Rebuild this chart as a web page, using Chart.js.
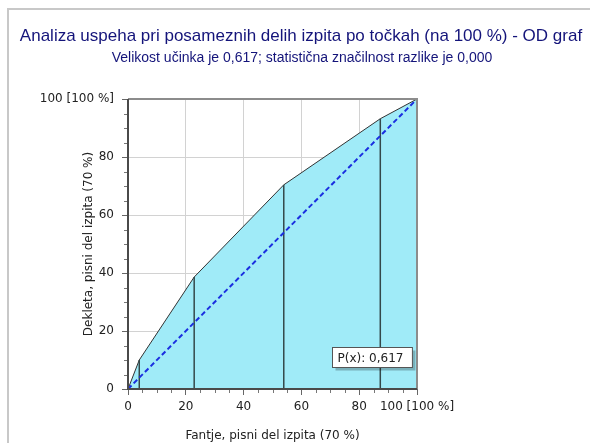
<!DOCTYPE html>
<html>
<head>
<meta charset="utf-8">
<script src="https://cdn.jsdelivr.net/npm/chart.js@4/dist/chart.umd.min.js"></script>
<style>
  body { margin: 0; background: #fff; }
  .frame { position: absolute; left: 7px; top: 8px; right: 0; bottom: 0;
           border-top: 2px solid #c8c8c8; border-left: 2px solid #c8c8c8; }
  #odChart { position: absolute; left: 0; top: 0; }
</style>
</head>
<body>
<div class="frame"></div>
<canvas id="odChart" width="590" height="443"></canvas>
<script>
// kumulativni deleži po točkah: fantje (x) in dekleta (y)
const boysCum = [0, 3.9, 22.9, 53.9, 87.3, 100];
const girlsCum = [0, 10, 38.6, 70.4, 93.2, 100];
const diagonal = [0, 100];
const tickValues = [0, 20, 40, 60, 80, 100];
const effectSize = 0.617;
const pValue = 0.000;

const fmt = (v, d) => v.toFixed(d).replace('.', ',');

const titleText = 'Analiza uspeha pri posameznih delih izpita po točkah (na 100 %) - OD graf';
const subtitleText = 'Velikost učinka je ' + fmt(effectSize, 3) + '; statistična značilnost razlike je ' + fmt(pValue, 3);

const curve = boysCum.map((x, i) => ({ x: x, y: girlsCum[i] }));

// navpične črte od osi x do krivulje v vsaki točki preloma
const drops = [];
for (let i = 1; i < boysCum.length - 1; i++) {
    drops.push({
        data: [{ x: boysCum[i], y: 0 }, { x: boysCum[i], y: girlsCum[i] }],
        borderColor: '#34484a',
        borderWidth: 1.5,
        pointRadius: 0,
        fill: false,
        order: 2
    });
}

const tickLabel = v => v === 100 ? '100 [100 %]' : String(v);
const gridColor = c => (c.tick && c.tick.value > 0 && c.tick.value < 100) ? '#d2d2d2' : 'rgba(0,0,0,0)';
const axisFont = { family: '"DejaVu Sans"', size: 12 };

const decor = {
    id: 'decor',
    afterDraw(chart) {
        const { ctx, chartArea: a, scales: { x, y } } = chart;
        ctx.save();

        // naslov in podnaslov, sredinsko nad celim okvirjem
        ctx.textAlign = 'center';
        ctx.textBaseline = 'middle';
        ctx.fillStyle = '#14147a';
        ctx.font = '17px "Liberation Sans", Arial';
        ctx.fillText(titleText, 301, 36);
        ctx.font = '14px "Liberation Sans", Arial';
        ctx.fillText(subtitleText, 302, 58);
        ctx.textAlign = 'left';

        // okvir risalne površine
        ctx.lineWidth = 2;
        ctx.strokeStyle = '#8c8c8c';
        ctx.beginPath();
        ctx.moveTo(a.left, a.top);
        ctx.lineTo(a.right, a.top);
        ctx.lineTo(a.right, a.bottom);
        ctx.stroke();
        ctx.strokeStyle = '#4a4a4a';
        ctx.beginPath();
        ctx.moveTo(a.left, a.top);
        ctx.lineTo(a.left, a.bottom);
        ctx.lineTo(a.right, a.bottom);
        ctx.stroke();

        // pomožne oznake na vsakih 5
        ctx.lineWidth = 1;
        ctx.strokeStyle = '#777';
        ctx.beginPath();
        for (let v = 5; v < 100; v += 5) {
            if (v % 20 === 0) continue;
            const px = Math.round(x.getPixelForValue(v)) + 0.5;
            const py = Math.round(y.getPixelForValue(v)) + 0.5;
            ctx.moveTo(px, a.bottom + 1);
            ctx.lineTo(px, a.bottom + 4);
            ctx.moveTo(a.left - 1, py);
            ctx.lineTo(a.left - 4, py);
        }
        ctx.stroke();

        // oznaka z velikostjo učinka
        const label = 'P(x): ' + fmt(effectSize, 3);
        ctx.font = '12px "DejaVu Sans"';
        const w = ctx.measureText(label).width + 14;
        const h = 20;
        const bx = Math.round(x.getPixelForValue(70.6)) + 0.5;
        const by = Math.round(y.getPixelForValue(7.6)) - h + 0.5;
        ctx.fillStyle = 'rgba(0,0,0,0.25)';
        ctx.fillRect(bx + 3, by + 3, w, h);
        ctx.fillStyle = '#fff';
        ctx.fillRect(bx, by, w, h);
        ctx.strokeStyle = '#555';
        ctx.strokeRect(bx, by, w, h);
        ctx.fillStyle = '#222';
        ctx.textBaseline = 'middle';
        ctx.fillText(label, bx + 5, by + h / 2 + 1);
        ctx.restore();
    }
};

new Chart(document.getElementById('odChart'), {
    type: 'line',
    data: {
        datasets: [
            {
                data: curve,
                borderColor: '#333',
                borderWidth: 1,
                backgroundColor: '#a0ebf8',
                fill: 'origin',
                pointRadius: 0,
                tension: 0,
                order: 3
            },
            ...drops,
            {
                data: diagonal.map(v => ({ x: v, y: v })),
                borderColor: '#1a2ee0',
                borderWidth: 2,
                borderDash: [5, 3],
                pointRadius: 0,
                fill: false,
                order: 1
            }
        ]
    },
    options: {
        responsive: false,
        animation: false,
        layout: { padding: { top: 99, left: 0, right: 173, bottom: 0 } },
        plugins: {
            legend: { display: false },
            tooltip: { enabled: false }
        },
        scales: {
            x: {
                type: 'linear',
                min: 0,
                max: 100,
                afterFit: s => { s.height = 54; },
                afterBuildTicks: s => { s.ticks = tickValues.map(v => ({ value: v })); },
                ticks: {
                    callback: tickLabel,
                    color: '#222',
                    font: axisFont,
                    padding: 5,
                    autoSkip: false,
                    maxRotation: 0
                },
                grid: { color: gridColor, tickColor: '#666', tickLength: 6 },
                border: { display: false },
                title: {
                    display: true,
                    text: 'Fantje, pisni del izpita (70 %)',
                    color: '#222',
                    font: axisFont,
                    padding: { top: 3, bottom: 0 }
                }
            },
            y: {
                type: 'linear',
                min: 0,
                max: 100,
                afterFit: s => { s.width = 128; },
                afterBuildTicks: s => { s.ticks = tickValues.map(v => ({ value: v })); },
                ticks: {
                    callback: tickLabel,
                    color: '#222',
                    font: axisFont,
                    padding: 8,
                    autoSkip: false
                },
                grid: { color: gridColor, tickColor: '#666', tickLength: 6 },
                border: { display: false },
                title: {
                    display: true,
                    text: 'Dekleta, pisni del izpita (70 %)',
                    color: '#222',
                    font: axisFont,
                    padding: { top: 82, bottom: 0 }
                }
            }
        }
    },
    plugins: [decor]
});
</script>
</body>
</html>
